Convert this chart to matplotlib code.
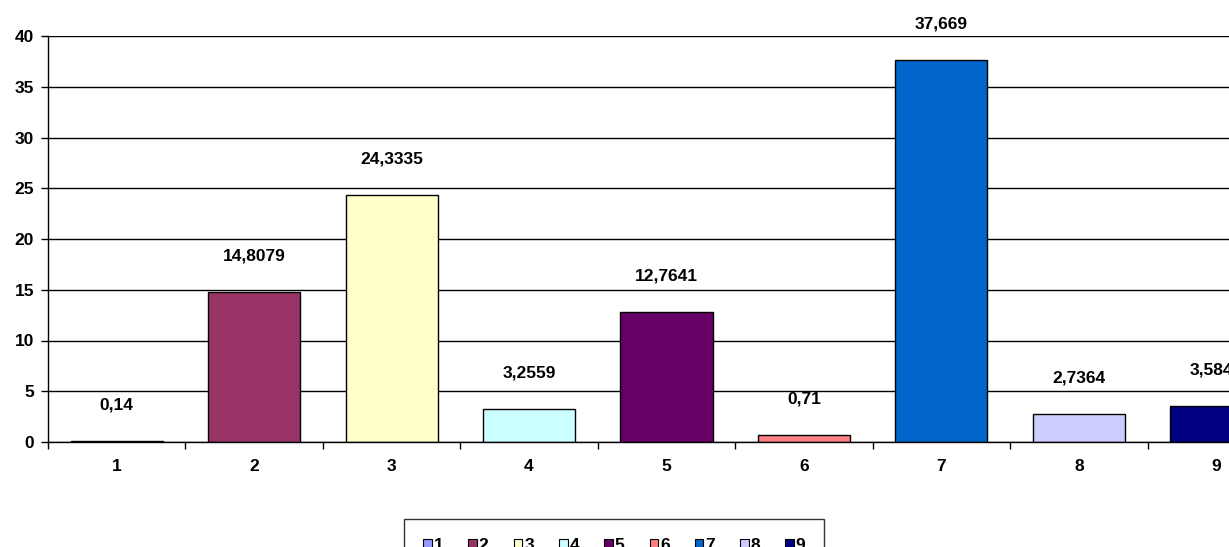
import matplotlib
matplotlib.use("Agg")
import matplotlib.pyplot as plt
from matplotlib.patches import Patch
import numpy as np

categories = ["1", "2", "3", "4", "5", "6", "7", "8", "9"]
values = [0.14, 14.8079, 24.3335, 3.2559, 12.7641, 0.71, 37.669, 2.7364, 3.5847]
labels = ["0,14", "14,8079", "24,3335", "3,2559", "12,7641", "0,71", "37,669", "2,7364", "3,5847"]
colors = ["#9999FF", "#993366", "#FFFFCC", "#CCFFFF", "#660066", "#FF8080", "#0066CC", "#CCCCFF", "#000080"]
yticks = [0, 5, 10, 15, 20, 25, 30, 35, 40]

plt.rcParams['font.family'] = ['Liberation Sans', 'DejaVu Sans']
W, H = 1229, 547
FS = 12.5
fig = plt.figure(figsize=(W/100, H/100), dpi=100)
ax = fig.add_axes([48/W, 1-442/H, (1285-48)/W, (442-36)/H])

x = np.arange(len(categories))
ax.bar(x, values, width=0.67, color=colors, edgecolor="black", linewidth=1, zorder=3)
for xi, v, lab in zip(x, values, labels):
    ax.annotate(lab, (xi, v), xytext=(0, 36*0.72), textcoords="offset points",
                ha="center", va="center", fontsize=FS, fontweight="bold", zorder=4,
                annotation_clip=False)

ax.set_xlim(-0.5, len(categories)-0.5)
ax.set_ylim(0, 40)
ax.set_yticks(yticks)
ax.set_yticklabels([str(t) for t in yticks], fontsize=FS, fontweight="bold")
ax.set_xticks(x)
ax.set_xticklabels(categories, fontsize=FS, fontweight="bold")
ax.tick_params(axis="x", which="major", length=0, pad=12)
ax.set_xticks(np.arange(-0.5, len(categories)), minor=True)
ax.tick_params(axis="x", which="minor", length=5, width=1, direction="out")
ax.tick_params(axis="y", length=5, width=1, direction="out", pad=5)
ax.yaxis.grid(True, color="black", linewidth=1, zorder=0)
for s in ["top", "right"]:
    ax.spines[s].set_visible(False)
for s in ["left", "bottom"]:
    ax.spines[s].set_linewidth(1)
    ax.spines[s].set_zorder(5)

handles = [Patch(facecolor=c, edgecolor="black", linewidth=0.8) for c in colors]
leg = fig.legend(handles, categories, loc="upper left", bbox_to_anchor=(404/W, 1-519/H),
                 ncol=9, frameon=True, fancybox=False, borderaxespad=0,
                 handlelength=0.5, handleheight=0.5, handletextpad=0.1,
                 columnspacing=1.45, borderpad=1.1, prop={"weight": "bold", "size": FS})
leg.get_frame().set_edgecolor("black")
leg.get_frame().set_linewidth(1)

fig.savefig("out.png", dpi=100)
